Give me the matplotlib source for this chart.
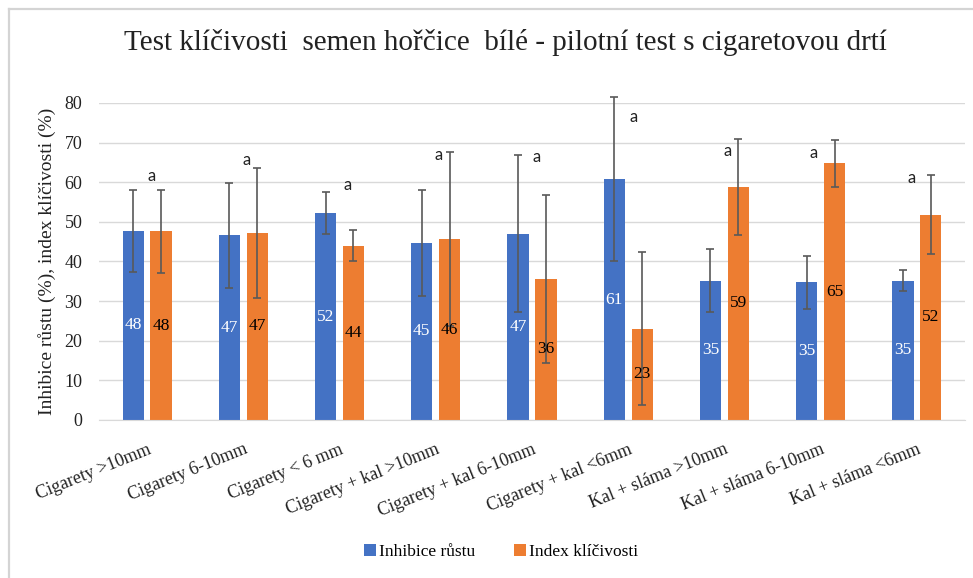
import numpy as np
import matplotlib.pyplot as plt
from matplotlib.patches import Patch
from matplotlib.lines import Line2D

categories = ['Cigarety >10mm', 'Cigarety 6-10mm', 'Cigarety < 6 mm',
              'Cigarety + kal >10mm', 'Cigarety + kal 6-10mm', 'Cigarety + kal <6mm',
              'Kal + sláma >10mm', 'Kal + sláma 6-10mm', 'Kal + sláma <6mm']
inhibice = [47.7, 46.6, 52.2, 44.7, 47.0, 60.8, 35.2, 34.7, 35.2]
inhibice_sd = [10.3, 13.2, 5.3, 13.4, 19.8, 20.7, 8.0, 6.6, 2.6]
index_kl = [47.6, 47.3, 44.0, 45.6, 35.6, 23.0, 58.8, 64.8, 51.8]
index_sd = [10.4, 16.4, 4.0, 22.0, 21.2, 19.3, 12.1, 5.9, 10.0]
# significance letters and where they sit (value axis)
letters = ['a'] * 9
letter_y = [61.5, 65.6, 59.2, 66.8, 66.4, 76.5, 67.8, 67.3, 61.0]
letter_dx = [0.05, 0.03, 0.08, 0.03, 0.05, 0.06, 0.03, -0.07, -0.05]

blue = '#4472C4'
orange = '#ED7D31'
serif = 'Liberation Serif'

fig = plt.figure(figsize=(9.73, 5.78), dpi=100)
ax = fig.add_axes([0.1017, 0.2734, 0.8901, 0.5484])

x = np.arange(len(categories))
w = 0.22
off = 0.145
b1 = ax.bar(x - off, inhibice, w, color=blue, zorder=2)
b2 = ax.bar(x + off, index_kl, w, color=orange, zorder=2)
for xs, ys, es in [(x - off, inhibice, inhibice_sd), (x + off, index_kl, index_sd)]:
    eb = ax.errorbar(xs, ys, yerr=es, fmt='none', ecolor='#595959', elinewidth=1.2,
                     capsize=2.8, capthick=1.2, zorder=3)
    for art in list(eb.lines[1]) + list(eb.lines[2]):
        art.set_clip_on(False)

# value labels in the middle of the bars
for xi, v in zip(x - off, inhibice):
    ax.text(xi, v / 2, f'{v:.0f}', ha='center', va='center', color='white',
            fontsize=12.5, family=serif, zorder=4)
for xi, v in zip(x + off, index_kl):
    ax.text(xi, v / 2, f'{v:.0f}', ha='center', va='center', color='black',
            fontsize=12.5, family=serif, zorder=4)

for xi, ly, dx, t in zip(x, letter_y, letter_dx, letters):
    ax.text(xi + dx, ly, t, ha='center', va='center', fontsize=12,
            family='Lato', color='#222222')

ax.set_xlim(-0.5, len(categories) - 0.5)
ax.set_ylim(0, 80)
ax.set_yticks(range(0, 81, 10))
ax.grid(axis='y', color='#D9D9D9', linewidth=1.0, zorder=0)
ax.set_axisbelow(True)
for s in ['top', 'right', 'left']:
    ax.spines[s].set_visible(False)
ax.spines['bottom'].set_color('#D9D9D9')
ax.tick_params(axis='both', length=0)
ax.tick_params(axis='y', pad=12, labelsize=13, labelcolor='#222222')
ax.set_yticklabels([str(v) for v in range(0, 81, 10)], family=serif)
ax.set_xticks(x)
ax.set_xticklabels(categories, rotation=22, ha='right', va='top',
                   rotation_mode='anchor', family=serif, fontsize=13, color='#222222')
ax.tick_params(axis='x', pad=15)

ax.set_ylabel('Inhibice růstu (%), index klíčivosti (%)', family=serif, fontsize=14,
              color='#222222', labelpad=6)
fig.text(0.519, 0.926, 'Test klíčivosti  semen hořčice  bílé - pilotní test s cigaretovou drtí',
         ha='center', va='center', family=serif, fontsize=21, color='#222222')

handles = [Patch(facecolor=blue), Patch(facecolor=orange)]
fig.legend(handles, ['Inhibice růstu', 'Index klíčivosti'], loc='center',
           bbox_to_anchor=(0.515, 0.045), ncol=2, frameon=False,
           prop={'family': serif, 'size': 12.5}, handlelength=0.7, handleheight=0.7,
           handletextpad=0.2, columnspacing=2.2)

# chart-area frame (only top and left edges are visible)
fig.add_artist(Line2D([9 / 973, 1], [1 - 9 / 578, 1 - 9 / 578], color='#D4D4D4', lw=1.6))
fig.add_artist(Line2D([9 / 973, 9 / 973], [0, 1 - 9 / 578], color='#D4D4D4', lw=1.6))

fig.savefig('out.png', dpi=100)
